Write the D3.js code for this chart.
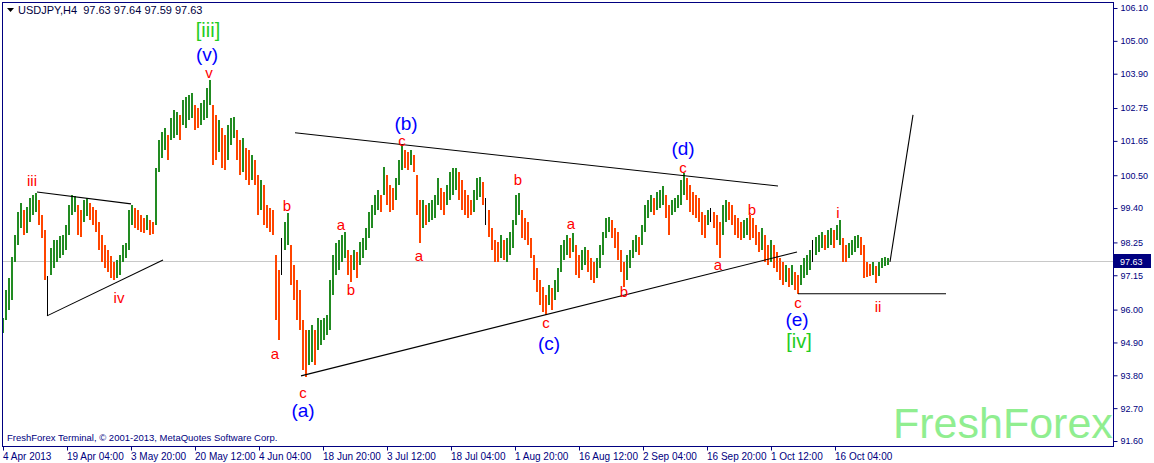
<!DOCTYPE html>
<html><head><meta charset="utf-8">
<script src="https://cdn.jsdelivr.net/npm/d3@7"></script>
<style>
html,body{margin:0;padding:0;background:#fff;}
svg{display:block;}
text{font-family:"Liberation Sans",Arial,sans-serif;}
</style></head>
<body>
<script>
// ---------- DATA ----------
const symbolTitle = "USDJPY,H4  97.63 97.64 97.59 97.63";
const copyright = "FreshForex Terminal, \u00A9 2001-2013, MetaQuotes Software Corp.";
const watermark = "FreshForex";
const lastPrice = 97.63;
// one sampled bar every 3 H4 bars (bar number = 3*i)
const barHigh = [95.72,96.66,97.06,97.76,98.50,99.27,99.57,99.34,99.44,99.74,99.84,99.91,99.67,99.17,98.67,97.13,98.06,98.33,98.33,98.47,98.50,98.83,99.50,99.84,99.80,99.50,99.34,99.67,99.74,99.57,
99.44,99.34,98.93,98.50,98.16,97.99,97.79,97.59,97.66,97.83,98.16,98.23,99.34,99.50,99.40,99.34,99.17,99.07,99.17,99.00,
98.93,100.74,101.68,101.95,102.08,101.85,102.42,102.69,102.62,102.52,103.02,103.12,103.19,103.26,102.85,102.75,102.92,103.02,103.42,103.69,
102.85,102.52,102.35,102.08,101.85,102.18,102.42,102.45,102.02,101.68,101.75,101.41,101.35,101.18,101.01,100.51,100.34,100.17,99.50,99.40,
99.34,97.83,97.33,98.40,98.93,99.24,98.16,97.49,96.99,96.66,95.65,95.32,95.32,95.49,95.32,95.72,95.65,95.72,95.82,96.99,
97.83,98.23,98.33,98.50,98.60,97.99,97.83,97.99,97.93,98.27,98.40,98.74,99.27,99.50,99.84,100.01,99.84,100.78,100.51,100.17,
100.07,100.41,101.01,101.51,101.35,101.28,101.35,101.18,100.51,99.67,99.67,99.50,99.57,99.67,99.84,100.41,100.07,99.94,100.17,100.61,
100.74,100.74,100.61,100.34,100.01,99.84,99.67,100.01,100.41,100.44,100.27,99.74,99.34,98.74,98.33,98.27,98.50,98.33,98.40,98.60,
99.00,99.84,99.91,99.34,99.07,98.93,98.40,97.83,97.39,96.99,96.76,96.49,96.82,96.72,96.99,97.39,98.16,98.33,98.50,98.40,
98.57,98.16,97.83,97.99,98.10,97.99,97.73,97.59,97.73,98.16,98.60,99.07,99.10,99.00,98.74,98.60,97.99,97.59,97.83,97.99,
98.33,98.50,98.43,98.83,99.50,99.67,99.84,99.74,99.94,100.01,100.14,99.84,99.50,99.67,99.74,99.84,100.34,100.58,100.41,100.17,
99.94,99.84,99.74,99.27,99.17,99.34,99.40,99.27,99.17,98.93,99.50,99.67,99.60,99.50,99.17,99.07,98.93,99.00,99.07,99.17,
99.07,98.83,98.60,98.74,98.50,98.16,98.33,98.16,97.93,97.73,97.59,97.49,97.39,97.49,97.26,97.16,97.49,97.73,97.83,97.99,
98.33,98.43,98.50,98.60,98.50,98.67,98.74,98.67,98.83,99.00,98.40,98.16,98.23,98.33,98.47,98.50,98.43,98.16,97.59,97.53,
97.59,97.46,97.59,97.73,97.76,97.73];
const barLow = [95.22,95.65,95.99,96.32,97.59,98.16,98.74,98.50,98.57,98.93,99.17,99.27,98.83,98.40,96.99,95.79,97.16,97.39,97.59,97.73,97.83,97.99,98.50,99.17,99.27,98.50,98.43,98.93,99.13,99.00,
98.83,98.60,97.99,97.59,97.39,97.26,97.06,96.99,97.06,97.16,97.59,97.73,97.99,98.83,98.74,98.67,98.60,98.57,98.67,98.50,
98.53,98.83,100.61,101.08,101.35,101.01,101.68,101.75,101.85,101.68,102.18,102.08,102.35,102.42,102.02,102.08,102.18,102.35,102.42,102.85,
100.84,101.01,101.28,100.74,100.68,101.01,101.51,101.75,101.01,100.51,100.61,100.34,100.17,100.34,100.17,99.17,99.34,98.83,98.74,98.60,
98.50,95.65,94.98,97.16,97.99,98.16,96.82,96.32,95.65,95.32,93.98,93.74,94.15,94.25,94.15,94.65,94.82,94.98,95.15,95.32,
96.49,97.16,97.33,97.59,97.73,97.16,96.93,97.33,97.06,97.49,97.73,97.99,98.40,98.74,99.17,99.34,99.27,99.84,99.50,99.27,
99.34,99.67,100.17,100.68,100.74,100.68,100.84,100.61,99.17,98.23,98.74,98.83,98.93,99.00,99.07,99.50,99.34,99.17,99.50,99.67,
99.84,100.01,99.67,99.34,99.17,99.07,99.17,99.27,99.67,99.77,99.50,98.83,98.43,97.99,97.59,97.59,97.73,97.66,97.59,97.83,
98.06,98.83,99.17,98.40,98.33,98.16,97.73,96.99,96.59,96.16,95.92,95.82,96.16,95.99,96.32,96.59,97.26,97.66,97.83,97.73,
97.93,97.16,97.06,97.33,97.49,97.26,96.99,96.89,97.06,97.39,97.83,98.40,98.60,98.40,98.06,97.66,97.26,96.76,96.99,97.39,
97.73,97.93,97.83,98.16,98.60,99.07,99.27,99.17,99.34,99.40,99.50,99.07,98.50,99.17,99.27,99.40,99.50,99.84,99.67,99.27,
99.17,99.07,98.93,98.50,98.40,98.83,98.93,98.74,98.16,97.73,98.50,98.93,99.00,98.83,98.50,98.40,98.33,98.40,98.50,98.33,
98.40,98.16,97.93,97.99,97.59,97.49,97.59,97.39,97.26,96.99,96.82,96.93,96.76,96.82,96.66,96.53,96.82,97.06,97.16,97.33,
97.59,97.83,97.93,98.06,97.99,98.06,98.16,98.06,98.33,98.16,97.59,97.59,97.73,97.83,97.93,98.06,97.83,97.06,97.09,97.13,
97.16,96.89,97.13,97.39,97.46,97.49];
// sampled bars that are dojis (drawn black)
const dojiBars = [15,93,161,236,270];

const priceTicks = [106.10,105.00,103.90,102.75,101.65,100.50,99.40,98.25,97.15,96.00,94.90,93.80,92.70,91.60];
const timeTickBars = [0,64,128,192,256,320,384,448,512,576,640,704,768,832];
const timeTickLabels = ["4 Apr 2013","19 Apr 04:00","3 May 20:00","20 May 12:00","4 Jun 04:00","18 Jun 20:00","3 Jul 12:00","18 Jul 04:00","1 Aug 20:00","16 Aug 12:00","2 Sep 04:00","16 Sep 20:00","1 Oct 12:00","16 Oct 04:00"];

// trend lines: [barNumber1, price1, barNumber2, price2]
const trendLines = [
  [34, 99.94, 128, 99.54],
  [44, 95.79, 160, 97.66],
  [292, 101.92, 775, 100.14],
  [298, 93.78, 794, 97.93],
  [795, 96.53, 943, 96.53],
  [887, 97.60, 910, 102.52]
];
// wave labels: [text, barNumber, price(baseline), degree]
const waveLabels = [
  ["[iii]",205,105.13,"major"],["(v)",204,104.32,"inter"],["v",206,103.74,"minor"],
  ["iii",29,100.14,"minor"],["iv",116,96.22,"minor"],
  ["b",284,99.30,"minor"],["a",272,94.35,"minor"],["c",300,93.04,"minor"],["(a)",300,92.40,"inter"],
  ["a",338,98.67,"minor"],["b",348,96.49,"minor"],["(b)",403,102.01,"inter"],["c",399,101.48,"minor"],
  ["a",416,97.63,"minor"],["b",515,100.17,"minor"],["a",568,98.70,"minor"],["c",543,95.39,"minor"],
  ["(c)",546,94.66,"inter"],["b",621,96.42,"minor"],["(d)",680,101.17,"inter"],["c",680,100.56,"minor"],
  ["a",715,97.33,"minor"],["b",749,99.17,"minor"],["c",795,96.05,"minor"],["(e)",794,95.45,"inter"],
  ["[iv]",796,94.72,"major"],["i",835,99.07,"minor"],["ii",875,95.92,"minor"]
];

// ---------- STYLE ----------
const W = 1154, H = 463;
const frame = {left:2, top:2, right:1113, bottom:446};
const navy = "#000080";
const upColor = "#228B22", downColor = "#FF4500";
const labelStyle = {
  minor:{color:"#ff0000", size:15},
  inter:{color:"#0000ff", size:19},
  major:{color:"#22cc22", size:20}
};

const svg = d3.select("body").append("svg").attr("width",W).attr("height",H);

const x = d3.scaleLinear().domain([0,887]).range([3,890]);
const y = d3.scaleLinear().domain([91.60,106.10]).range([441,8]);

// frame
svg.append("rect").attr("x",frame.left+0.5).attr("y",frame.top+0.5)
  .attr("width",frame.right-frame.left).attr("height",frame.bottom-frame.top)
  .attr("fill","none").attr("stroke",navy).attr("stroke-width",1);

// clip
svg.append("clipPath").attr("id","plot").append("rect")
  .attr("x",frame.left+1).attr("y",frame.top+1)
  .attr("width",frame.right-frame.left-1).attr("height",frame.bottom-frame.top-1);
const plot = svg.append("g").attr("clip-path","url(#plot)");

// current price line
plot.append("line").attr("x1",frame.left).attr("x2",frame.right)
  .attr("y1",Math.round(y(lastPrice))+0.5).attr("y2",Math.round(y(lastPrice))+0.5)
  .attr("stroke","#c8c8c8").attr("stroke-width",1);

// bars
const bars = barHigh.map((h,i)=>({i, bn:i*3, h, l:barLow[i]}));
plot.append("g").selectAll("rect").data(bars).join("rect")
  .attr("x",d=>Math.round(x(d.bn))-1)
  .attr("width",d=>dojiBars.includes(d.i)?1:2)
  .attr("y",d=>Math.round(y(d.h)))
  .attr("height",d=>Math.max(1,Math.round(y(d.l))-Math.round(y(d.h))))
  .attr("fill",d=>{
    if(dojiBars.includes(d.i)) return "#000";
    const prev = d.i>0 ? (barHigh[d.i-1]+barLow[d.i-1])/2 : d.l;
    return ((d.h+d.l)/2 >= prev) ? upColor : downColor;
  });

// trend lines
plot.append("g").selectAll("line").data(trendLines).join("line")
  .attr("x1",d=>x(d[0])).attr("y1",d=>y(d[1]))
  .attr("x2",d=>x(d[2])).attr("y2",d=>y(d[3]))
  .attr("stroke","#000").attr("stroke-width",1.1);

// wave labels
plot.append("g").selectAll("text").data(waveLabels).join("text")
  .attr("x",d=>x(d[1])).attr("y",d=>y(d[2]))
  .attr("text-anchor","middle")
  .attr("fill",d=>labelStyle[d[3]].color)
  .attr("font-size",d=>labelStyle[d[3]].size)
  .text(d=>d[0]);

// watermark
svg.append("text").attr("x",893).attr("y",438)
  .attr("font-size",43).attr("fill","#90ee90")
  .text(watermark);

// header
svg.append("path").attr("d","M7,8 L14,8 L10.5,12 Z").attr("fill","#000");
svg.append("text").attr("x",18).attr("y",14).attr("font-size",11)
  .attr("fill","#000040").style("white-space","pre").text(symbolTitle);

// copyright
svg.append("text").attr("x",7).attr("y",441).attr("font-size",9.5)
  .attr("fill",navy).text(copyright);

// right price axis
const yAxis = d3.axisRight(y).tickValues(priceTicks).tickSize(4).tickFormat(d3.format(".2f"));
const ya = svg.append("g").attr("transform",`translate(${frame.right+0.5},0)`).call(yAxis);
ya.select(".domain").remove();
ya.selectAll("line").attr("stroke",navy);
ya.selectAll("text").attr("fill",navy).attr("font-size",9).attr("x",7).attr("font-family","Liberation Sans, Arial, sans-serif");

// current price box
const cy = Math.round(y(lastPrice));
svg.append("rect").attr("x",frame.right+1).attr("y",cy-7).attr("width",37).attr("height",14).attr("fill",navy);
svg.append("text").attr("x",frame.right+7).attr("y",cy+3.5).attr("font-size",9).attr("fill","#fff").text(lastPrice.toFixed(2));

// bottom time axis
const xa = svg.append("g").attr("transform",`translate(0,${frame.bottom+0.5})`);
xa.selectAll("line").data(timeTickBars).join("line")
  .attr("x1",d=>Math.round(x(d))+0.5).attr("x2",d=>Math.round(x(d))+0.5)
  .attr("y1",0).attr("y2",4).attr("stroke",navy);
xa.selectAll("text").data(timeTickBars).join("text")
  .attr("x",d=>Math.round(x(d))).attr("y",13)
  .attr("font-size",10).attr("fill",navy)
  .text((d,i)=>timeTickLabels[i]);
</script>
</body></html>
